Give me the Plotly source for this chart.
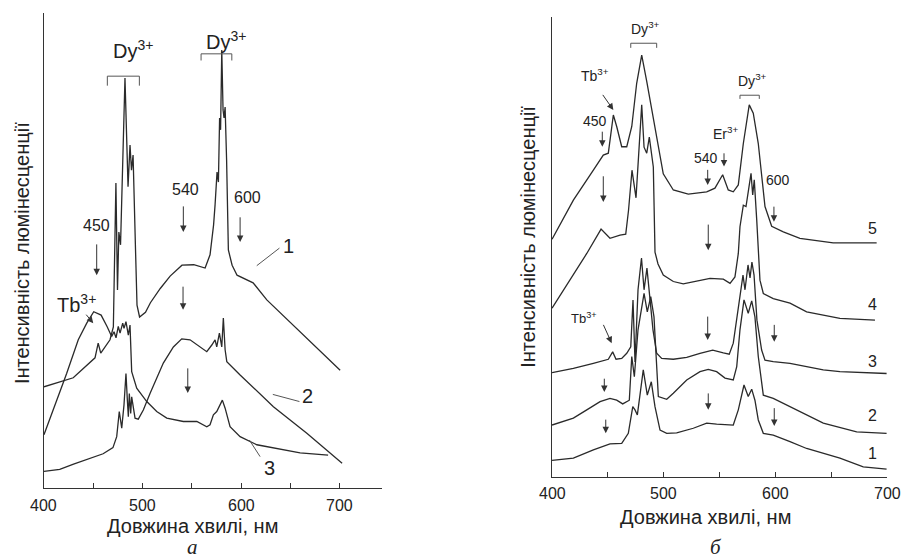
import plotly.graph_objects as go

# ---------------- Panel a (wavelength, nm / intensity, a.u.) ----------------
a1_x = [400, 429.7, 451.8, 455, 457.6, 467, 470.4, 473, 474.6, 476, 477.7, 482.2, 485.3, 487.3, 488.8,
        490.4, 492.9, 494.4, 497, 503, 508, 518, 528, 540, 552, 563.5, 568.5, 570.6, 572.1, 573.6,
        575.6, 577, 578.2, 579.2, 580.4, 581.7, 582.7, 583.8, 585.3, 587.1, 590.9, 595.9, 612.2,
        626.1, 649.7, 675.1, 700.5]
a1_y = [21.3, 23.2, 27.4, 30.5, 28.4, 31.2, 33.9, 64.2, 41.7, 53.9, 51.2, 86.3, 63.4, 72.2, 66.9,
        70.1, 50.1, 38.5, 36.0, 37.0, 39.0, 42.0, 44.6, 46.9, 47.0, 46.3, 49.1, 52.2, 55.4, 59.6,
        66.5, 64.4, 77.9, 75.4, 92.2, 79.6, 77.9, 80.2, 69.1, 50.1, 46.9, 44.8, 43.2,
        39.6, 34.9, 29.9, 24.8]

a2_x = [400, 416, 430, 443, 460, 470, 473.8, 476.4, 478.9, 481.2, 483.2, 484.6, 485.6, 486.6, 488,
        489, 490.7, 492.4, 495.7, 500.8, 507.6, 521.1, 531.3, 539.8, 548.2, 558.4, 565.2, 570.3,
        573.6, 575.3, 578, 580.4, 582, 583.8, 585.5, 599, 632.8, 666.7, 702.5]
a2_y = [3.5, 3.9, 5.0, 6.0, 7.2, 8.5, 10.8, 16.1, 12.6, 17.5, 24.1, 18.5, 15.0, 19.9, 15.7,
        19.2, 16.4, 14.7, 14.5, 16.4, 19.9, 26.3, 29.7, 31.4, 31.2, 29.7, 28.7, 30.1,
        31.2, 29.7, 32.6, 29.7, 35.8, 29.1, 26.6, 23.8, 17.1, 11.5, 5.2]

a3_x = [400, 409.4, 423, 434.8, 443.4, 450.5, 458, 464, 468.7, 471.1, 473.1, 475.4, 477.2, 479.9,
        481.2, 483.2, 485.6, 487.3, 489, 494.1, 504.3, 514.4, 524.6, 541.4, 555.1, 565.2, 568.5,
        571.9, 575.3, 581, 583.8, 588.8, 599, 616, 632.8, 659.9, 688.3]
a3_y = [11.2, 16.4, 24.1, 31.2, 34.7, 37.1, 36.4, 34.0, 31.9, 32.9, 31.6, 34.0, 32.6, 34.7,
        33.6, 35.0, 32.2, 34.3, 24.5, 21.0, 18.2, 16.1, 14.7, 14.0, 14.0, 12.9, 13.3,
        15.4, 16.1, 18.5, 16.8, 12.9, 10.8, 9.1, 8.4, 7.4, 6.9]

# ---------------- Panel б ----------------
b5_x = [400, 419.1, 437, 445.9, 450.4, 454.9, 457.9, 462.4, 466.9, 471.4, 475.8, 480.3, 484.8, 490.7,
        495.2, 499.6, 508.6, 522, 538.5, 545.9, 552.8, 557.8, 562.3, 566.8, 571.3, 576.6, 580.2,
        584.7, 590.7, 596.7, 607.1, 622, 651.8, 690.7]
b5_y = [51.7, 60.2, 66.7, 70.0, 70.4, 78.7, 76.2, 71.8, 71.8, 76.2, 85.6, 91.7, 86.0, 78.0,
        71.1, 65.9, 62.4, 61.5, 62.0, 62.8, 65.7, 62.4, 62.0, 63.5, 72.5, 80.9, 79.1,
        72.5, 58.8, 54.5, 53.3, 51.9, 50.9, 50.9]

b4_x = [400, 416.1, 431.1, 443.9, 451.9, 460.9, 466, 468.5, 471.6, 475.2, 480.3, 482.4, 484.8, 487.1,
        490.7, 492.2, 494.9, 499.6, 508.6, 517.5, 532.5, 541.5, 553.4, 559.4, 563.8, 566.8, 568.3,
        571.3, 573.7, 575.7, 578.2, 579.7, 581.1, 583.3, 586.2, 589.2, 598.1, 613.1, 628, 657.8, 689.2]
b4_y = [36.7, 42.8, 48.6, 53.9, 51.9, 52.6, 52.8, 58.0, 66.7, 60.7, 80.9, 71.7, 70.4, 73.9,
        67.4, 48.9, 46.3, 43.9, 42.5, 42.0, 42.8, 43.2, 43.0, 42.1, 43.5, 48.6, 54.4,
        59.1, 58.8, 62.4, 66.0, 61.3, 64.6, 55.9, 42.8, 39.9, 38.8, 37.8, 35.9, 34.5, 34.1]

b3_x = [400, 419.1, 437, 450.4, 454.3, 457.3, 462.4, 466.9, 470.5, 472.5, 474.3, 477, 480.1, 482.4,
        485, 487.7, 490.4, 493.7, 498.2, 508.6, 520.6, 532.5, 543.9, 553.4, 558.7, 562.3, 565.4,
        568.3, 571, 572.8, 575.5, 577.3, 579, 580.9, 583.5, 587.7, 590.7, 598.1, 613.1, 628,
        642.9, 657.8, 699.6]
b3_y = [22.7, 23.6, 24.7, 25.6, 27.2, 25.6, 25.8, 26.9, 28.3, 38.5, 25.0, 40.7, 47.6, 40.7,
        45.4, 38.5, 32.0, 26.9, 25.8, 25.6, 26.0, 26.9, 27.6, 27.0, 26.7, 29.1, 34.1,
        38.5, 43.9, 40.7, 46.1, 43.3, 46.7, 43.9, 34.1, 27.6, 25.4, 25.1, 24.7, 24.0,
        23.3, 22.9, 22.5]

b2_x = [400, 419.1, 431.1, 443, 451.9, 457.9, 463.3, 469.2, 471.4, 473.7, 477, 482.4, 485.3, 488.4,
        491.3, 494, 495.2, 502.7, 508.6, 520.6, 532.5, 539.9, 547.4, 554.9, 562.3, 565.4, 568.3,
        571.9, 575.7, 578.8, 581.7, 584.7, 589.2, 598.1, 607.1, 628, 642.9, 672.8, 699.6]
b2_y = [11.3, 12.8, 14.6, 16.4, 17.1, 16.7, 15.9, 16.7, 26.2, 21.8, 32.0, 39.9, 35.9, 39.2,
        34.8, 23.3, 17.5, 16.9, 18.2, 21.1, 22.9, 23.4, 22.9, 21.5, 21.1, 24.0, 32.0,
        38.5, 35.6, 38.3, 34.8, 26.2, 17.8, 17.1, 16.0, 13.5, 11.7, 9.8, 9.5]

b1_x = [400, 419.1, 437, 451.9, 462.4, 468.3, 472.3, 474.3, 476.4, 481.7, 485.3, 488.9, 492.2, 496.7,
        502.7, 511.6, 526.5, 538.5, 547.4, 556.4, 562.3, 566.8, 571.9, 575.7, 578.8, 581.7, 584.7,
        589.2, 598.1, 613.1, 628, 657.8, 678.7, 699.6]
b1_y = [3.6, 4.1, 5.9, 7.2, 7.3, 9.5, 15.3, 14.6, 13.5, 23.3, 17.8, 20.7, 15.3, 10.2,
        9.5, 9.6, 10.6, 11.7, 11.5, 11.3, 11.3, 14.6, 20.0, 17.5, 19.1, 16.7, 12.4,
        9.5, 9.1, 7.7, 6.2, 4.1, 2.2, 1.7]

x_ticks = [400, 450, 500, 550, 600, 650, 700]
x_ticktext = ["400", "", "500", "", "600", "", "700"]

# labels: (text, x, y, font size)
a_labels = [("Dy<sup>3+</sup>", 490.4, 92.4, 20), ("Dy<sup>3+</sup>", 584.8, 94.3, 20),
            ("540", 543.1, 62.9, 16), ("600", 606.6, 61.1, 16), ("450", 453.8, 55.2, 16),
            ("Tb<sup>3+</sup>", 433, 38.9, 20), ("1", 647.7, 50.9, 20), ("2", 667, 19.4, 20),
            ("3", 628.4, 4.2, 20)]
# arrows: (x_tail, y_tail, x_head, y_head)
a_arrows = [(453.5, 51.6, 453.5, 44.8), (541.4, 59.6, 541.4, 53.9), (599, 57.3, 599, 51.8),
            (541.1, 42.7, 541.1, 37.5), (545.9, 25.5, 545.9, 20.0), (441.6, 36.8, 450, 34.7)]
a_leaders = [(615.9, 46.8, 638.9, 50.5), (632.2, 19.7, 659.2, 18.2), (608.4, 10.1, 619.3, 6.6)]
a_brackets = [(464.3, 496.8, 86.7, 84.7), (559.4, 590.6, 91.4, 90.0)]

b_labels = [("Dy<sup>3+</sup>", 483.3, 97.6, 14), ("Tb<sup>3+</sup>", 438.9, 87.4, 14),
            ("450", 438.5, 77.5, 14), ("Er<sup>3+</sup>", 554.9, 74.8, 14), ("540", 537.6, 69.3, 14),
            ("Dy<sup>3+</sup>", 579.5, 86.3, 14), ("600", 602.3, 64.6, 14),
            ("Tb<sup>3+</sup>", 428.2, 34.6, 13),
            ("5", 687.4, 54.1, 16), ("4", 687.4, 37.6, 16), ("3", 687.4, 25.2, 16),
            ("2", 687.4, 13.3, 16), ("1", 687.4, 5.2, 16)]
b_arrows = [(444.5, 83.4, 454.9, 79.8), (445, 75.4, 445, 71.8), (554, 70.7, 554, 67.5),
            (539.4, 67.1, 539.4, 63.5), (598.7, 59.1, 598.7, 55.5), (445.9, 65.7, 445.9, 59.8),
            (539.9, 55.2, 539.9, 49.3), (445.4, 33.4, 453.4, 29.1), (539.4, 35.2, 539.4, 29.8),
            (599, 33.4, 599, 29.4), (446.8, 21.7, 446.8, 18.5), (539.9, 18.5, 539.9, 14.6),
            (448.1, 12.8, 448.1, 9.5), (599, 15.3, 599, 11.1)]
b_brackets = [(470.5, 493.7, 94.3, 93.3), (568.3, 585.6, 83.0, 82.2)]

LC = "#2a2a2a"
AC = "#333333"
FONT = "Liberation Sans"

fig = go.Figure()
for xs, ys in [(a1_x, a1_y), (a2_x, a2_y), (a3_x, a3_y)]:
    fig.add_trace(go.Scatter(x=xs, y=ys, mode="lines", line=dict(color=LC, width=1.3),
                             xaxis="x", yaxis="y", showlegend=False, hoverinfo="skip"))
for xs, ys in [(b1_x, b1_y), (b2_x, b2_y), (b3_x, b3_y), (b4_x, b4_y), (b5_x, b5_y)]:
    fig.add_trace(go.Scatter(x=xs, y=ys, mode="lines", line=dict(color=LC, width=1.3),
                             xaxis="x2", yaxis="y2", showlegend=False, hoverinfo="skip"))

ann = []
shapes = []
for labels, arrows, leaders, brackets, xr, yr in [
        (a_labels, a_arrows, a_leaders, a_brackets, "x", "y"),
        (b_labels, b_arrows, [], b_brackets, "x2", "y2")]:
    for t, x, y, s in labels:
        ann.append(dict(text=t, x=x, y=y, xref=xr, yref=yr, showarrow=False,
                        xanchor="center", yanchor="middle",
                        font=dict(family=FONT, size=s, color="#222")))
    for x0, y0, x1, y1 in arrows:
        ann.append(dict(text="", x=x1, y=y1, ax=x0, ay=y0, xref=xr, yref=yr, axref=xr, ayref=yr,
                        showarrow=True, arrowhead=2, arrowsize=1.3, arrowwidth=1,
                        arrowcolor=AC, standoff=0, startstandoff=0))
    for x0, y0, x1, y1 in leaders:
        shapes.append(dict(type="line", x0=x0, y0=y0, x1=x1, y1=y1, xref=xr, yref=yr,
                           line=dict(color="#555", width=1)))
    for x0, x1, yt, yb in brackets:
        shapes.append(dict(type="path", xref=xr, yref=yr,
                           path=f"M {x0},{yb} L {x0},{yt} L {x1},{yt} L {x1},{yb}",
                           line=dict(color="#555", width=1)))

# tick labels drawn as text under each axis
for xr, ypos in [("x", 0.098), ("x2", 0.118)]:
    for v, t in zip(x_ticks, x_ticktext):
        if t:
            ann.append(dict(text=t, x=v, y=ypos, xref=xr, yref="paper", showarrow=False,
                            xanchor="center", yanchor="middle",
                            font=dict(family=FONT, size=16, color="#222")))

title_x = "Довжина хвилі, нм"
title_y = "Інтенсивність люмінесценції"
ann += [
    dict(text=title_x, x=0.2142, y=0.0607, xref="paper", yref="paper", showarrow=False,
         xanchor="center", yanchor="middle", font=dict(family=FONT, size=20, color="#222")),
    dict(text=title_x, x=0.7825, y=0.0768, xref="paper", yref="paper", showarrow=False,
         xanchor="center", yanchor="middle", font=dict(family=FONT, size=20, color="#222")),
    dict(text="<i>а</i>", x=0.2142, y=0.0, xref="paper", yref="paper", showarrow=False,
         xanchor="center", yanchor="bottom", borderpad=0,
         font=dict(family="Liberation Serif", size=21, color="#222")),
    dict(text="<i>б</i>", x=0.7947, y=0.0, xref="paper", yref="paper", showarrow=False,
         xanchor="center", yanchor="bottom", borderpad=0,
         font=dict(family="Liberation Serif", size=21, color="#222")),
    dict(text=title_y, x=0.0244, y=0.548, xref="paper", yref="paper", showarrow=False,
         xanchor="center", yanchor="middle",
         textangle=-90, font=dict(family=FONT, size=20, color="#222")),
    dict(text=title_y, x=0.586, y=0.577, xref="paper", yref="paper", showarrow=False,
         xanchor="center", yanchor="middle",
         textangle=-90, font=dict(family=FONT, size=20, color="#222")),
]

xcommon = dict(showline=True, linecolor=AC, linewidth=1, ticks="inside", ticklen=5, tickwidth=1,
               tickcolor=AC, tickvals=x_ticks, showticklabels=False, showgrid=False,
               zeroline=False, automargin=False)
ycommon = dict(showline=True, linecolor=AC, linewidth=1, ticks="", showticklabels=False,
               showgrid=False, zeroline=False, range=[0, 100], automargin=False)

fig.update_layout(
    width=901, height=560, margin=dict(l=0, r=0, t=0, b=0),
    paper_bgcolor="white", plot_bgcolor="white",
    xaxis=dict(domain=[0.0488, 0.4240], range=[400, 743], anchor="y", **xcommon),
    yaxis=dict(domain=[0.1286, 0.9768], anchor="x", **ycommon),
    xaxis2=dict(domain=[0.6127, 0.9845], range=[400, 700], anchor="y2", **xcommon),
    yaxis2=dict(domain=[0.1482, 0.9696], anchor="x2", **ycommon),
    annotations=ann, shapes=shapes,
)

fig.write_html("out.html", config={"displayModeBar": False},
               post_script="document.body.style.margin='0';")
